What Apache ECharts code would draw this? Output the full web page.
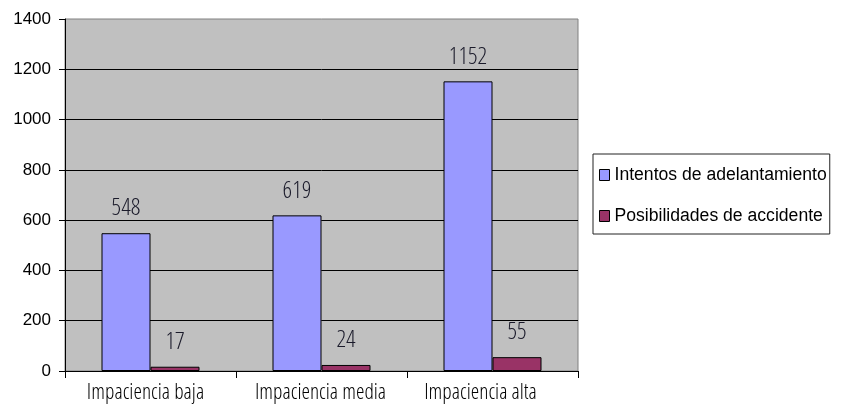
<!DOCTYPE html>
<html>
<head>
<meta charset="utf-8">
<script src="https://cdn.jsdelivr.net/npm/echarts@6/dist/echarts.min.js"></script>
<style>
  html, body { margin: 0; padding: 0; background: #fff; }
  #chart { width: 841px; height: 409px; }
</style>
</head>
<body>
<div id="chart"></div>
<script>
// Categories and series values
const categories = ['Impaciencia baja', 'Impaciencia media', 'Impaciencia alta'];
const intentos = [548, 619, 1152];
const posibilidades = [17, 24, 55];
const seriesNames = ['Intentos de adelantamiento', 'Posibilidades de accidente'];

// Right-hand padding per category label (nudges the centred text slightly left)
const labelNudge = [10, 2, 24];

const narrowFont = '"Open Sans Condensed Light", "Roboto Condensed", "DejaVu Sans Condensed", sans-serif';
const plainFont = '"Liberation Sans", Arial, sans-serif';

const chart = echarts.init(document.getElementById('chart'), null, { renderer: 'canvas' });

const valueLabel = {
  show: true,
  position: 'top',
  distance: 12,
  color: '#1a1a2a',
  fontFamily: narrowFont,
  fontSize: 24
};

chart.setOption({
  backgroundColor: '#ffffff',
  animation: false,
  grid: {
    left: 65, right: 263, top: 19, bottom: 38,
    show: true,
    backgroundColor: '#c0c0c0',
    borderColor: '#808080',
    borderWidth: 1
  },
  legend: {
    orient: 'vertical',
    left: 593,
    top: 154,
    backgroundColor: '#ffffff',
    borderColor: '#222',
    borderWidth: 1,
    padding: [11, 3, 8, 6],
    itemGap: 21,
    itemWidth: 10,
    itemHeight: 11,
    icon: 'rect',
    itemStyle: { borderColor: '#000', borderWidth: 1 },
    textStyle: {
      fontFamily: plainFont,
      fontSize: 17.6,
      lineHeight: 20,
      color: '#000'
    },
    data: seriesNames
  },
  xAxis: {
    type: 'category',
    data: categories.map((name, i) => ({
      value: name,
      textStyle: { padding: [0, labelNudge[i], 0, 0] }
    })),
    axisLine: { lineStyle: { color: '#000', width: 1 } },
    axisTick: { show: true, length: 7, alignWithLabel: false, lineStyle: { color: '#000' } },
    axisLabel: {
      interval: 0,
      color: '#000',
      fontFamily: narrowFont,
      fontSize: 21.6,
      margin: 11
    },
    splitLine: { show: false }
  },
  yAxis: {
    type: 'value',
    min: 0,
    max: 1400,
    interval: 200,
    axisLine: { show: true, lineStyle: { color: '#000', width: 1 } },
    axisTick: { show: true, length: 6, lineStyle: { color: '#000' } },
    axisLabel: {
      color: '#000',
      fontFamily: plainFont,
      fontSize: 17,
      margin: 14,
      formatter: (v) => String(v)
    },
    splitLine: { show: true, showMaxLine: false, lineStyle: { color: '#000', width: 1 } }
  },
  series: [
    {
      name: seriesNames[0],
      type: 'bar',
      data: intentos,
      barWidth: 49,
      barGap: '0%',
      itemStyle: { color: '#9999ff', borderColor: '#000', borderWidth: 1 },
      label: valueLabel
    },
    {
      name: seriesNames[1],
      type: 'bar',
      data: posibilidades,
      barWidth: 49,
      barGap: '0%',
      itemStyle: { color: '#993366', borderColor: '#000', borderWidth: 1 },
      label: valueLabel
    }
  ]
});
</script>
</body>
</html>
